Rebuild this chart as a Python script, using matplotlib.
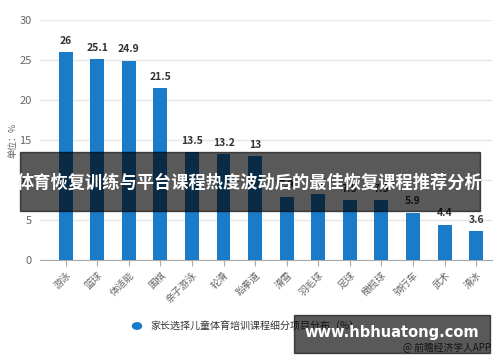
import matplotlib.pyplot as plt
from matplotlib.patches import Rectangle, Circle

plt.rcParams['font.family'] = ['Noto Sans CJK SC', 'DejaVu Sans']

categories = ["游泳", "篮球", "体适能", "围棋", "亲子游泳", "轮滑", "跆拳道",
              "滑雪", "羽毛球", "足球", "橄榄球", "骑行车", "武术", "滑冰"]
values = [26, 25.1, 24.9, 21.5, 13.5, 13.2, 13, 7.9, 8.3, 7.5, 7.5, 5.9, 4.4, 3.6]
y_ticks = [0, 5, 10, 15, 20, 25, 30]

bar_color = "#1a7bc9"

fig = plt.figure(figsize=(5, 3.62), dpi=100)
ax = fig.add_axes([0.08, 0.2818, 0.904, 0.663])

x = range(len(categories))
ax.bar(x, values, width=0.44, color=bar_color, zorder=3)
for xi, v in zip(x, values):
    ax.text(xi, v + 0.8, f"{v:g}", ha="center", va="bottom", fontsize=7.5,
            fontweight="bold", color="#333333", zorder=4)

ax.set_xlim(-0.81, 13.5)
ax.set_ylim(0, 30)
ax.set_yticks(y_ticks)
ax.yaxis.grid(True, color="#e6e6e6", linewidth=1, zorder=0)
ax.tick_params(axis="y", length=0, labelsize=8, labelcolor="#666666", pad=6)
ax.set_xticks(list(x))
ax.set_xticklabels(categories, rotation=45, ha="right", rotation_mode="anchor",
                   fontsize=7, color="#666666")
ax.tick_params(axis="x", length=4, color="#aaaaaa", pad=3)
for side in ["top", "right", "left"]:
    ax.spines[side].set_visible(False)
ax.spines["bottom"].set_color("#aaaaaa")
ax.set_ylabel("单位：%", fontsize=6.5, color="#666666")
ax.yaxis.set_label_coords(-0.05, 0.5)

# legend
fig.patches.append(Circle((137 / 500, 1 - 326 / 362), 4.5 / 500, color=bar_color,
                          transform=fig.transFigure, figure=fig))
fig.text(150 / 500, 1 - 326 / 362, "家长选择儿童体育培训课程细分项目分布（%）",
         fontsize=7.2, color="#333333", va="center", ha="left")

# source text (under the watermark box)
fig.text(403 / 500, 1 - 348 / 362, "@ 前瞻经济学人APP", fontsize=7,
         color="#333333", va="center", ha="left")

# title banner
fig.patches.append(Rectangle((20 / 500, 1 - 211 / 362), 460 / 500, 59 / 362,
                             transform=fig.transFigure, color="black", alpha=0.65,
                             zorder=10, figure=fig))
fig.text(0.5, 1 - 183 / 362, "体育恢复训练与平台课程热度波动后的最佳恢复课程推荐分析",
         fontsize=12.4, fontweight="bold", color="white", ha="center", va="center",
         zorder=11)

# url box
fig.patches.append(Rectangle((294 / 500, 1 - 353 / 362), 196 / 500, 38 / 362,
                             transform=fig.transFigure, color="black", alpha=0.65,
                             zorder=10, figure=fig))
fig.text(392 / 500, 1 - 332 / 362, "www.hbhuatong.com", fontsize=10.5,
         fontweight="bold", color="white", ha="center", va="center",
         family="DejaVu Sans", zorder=11)

fig.savefig("out.png", dpi=100)
